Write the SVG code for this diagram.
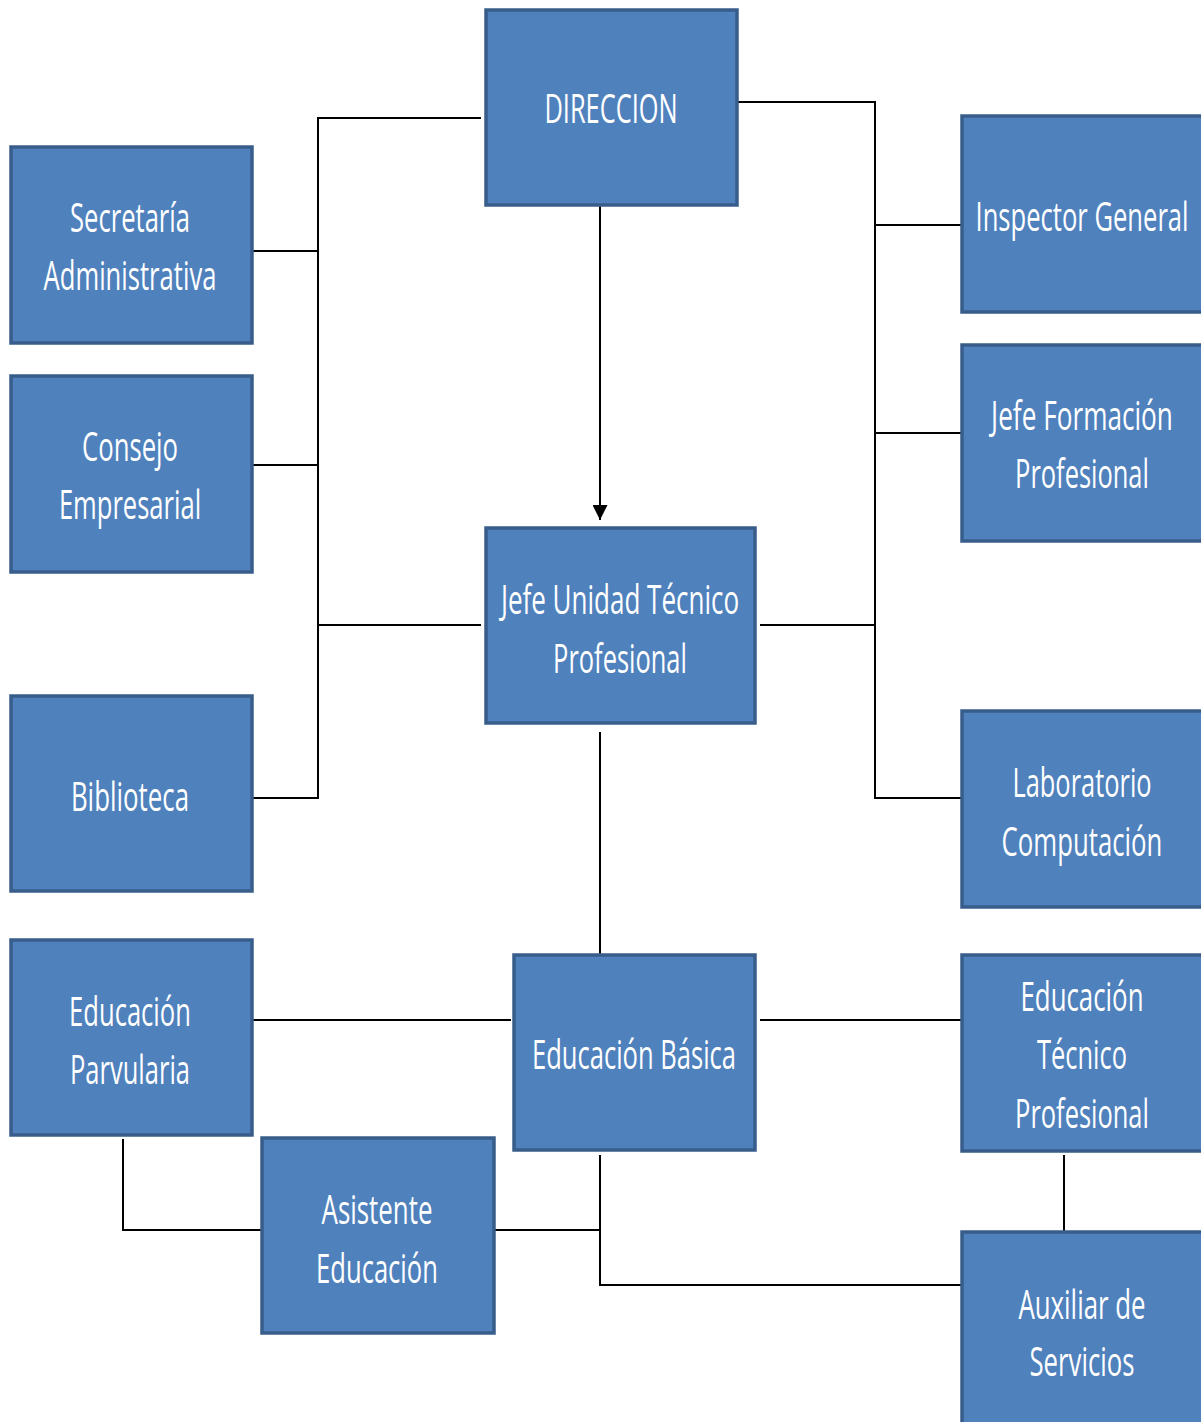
<svg xmlns="http://www.w3.org/2000/svg" width="1201" height="1422" viewBox="0 0 1201 1422">
<style>
.box{fill:#4F81BD;stroke:#385D8A;stroke-width:3.5}
.fill{fill:#4F81BD}
.edge{fill:none;stroke:#385D8A;stroke-width:3.5}
.t{fill:#FFFFFF;font-family:"Open Sans","Liberation Sans",sans-serif;font-size:40px;text-anchor:middle}
.c{fill:none;stroke:#000;stroke-width:2}
</style>
<defs>
<marker id="arr" viewBox="0 0 10 10" refX="10" refY="5" markerWidth="8" markerHeight="7.5" markerUnits="strokeWidth" orient="auto">
<path d="M0,0 L10,5 L0,10 z" fill="#000"/>
</marker>
</defs>
<rect width="1201" height="1422" fill="#FFFFFF"/>
<g id="connectors">
<polyline class="c" points="481,118 318,118 318,798 252,798"/>
<line class="c" x1="252" y1="251" x2="318" y2="251"/>
<line class="c" x1="252" y1="465" x2="318" y2="465"/>
<line class="c" x1="318" y1="625" x2="481" y2="625"/>
<polyline class="c" points="738,102 875,102 875,798 961,798"/>
<line class="c" x1="875" y1="225" x2="961" y2="225"/>
<line class="c" x1="875" y1="433" x2="961" y2="433"/>
<line class="c" x1="760" y1="625" x2="875" y2="625"/>
<line class="c" x1="600" y1="206" x2="600" y2="520" marker-end="url(#arr)"/>
<line class="c" x1="600" y1="732" x2="600" y2="954"/>
<line class="c" x1="252" y1="1020" x2="511" y2="1020"/>
<line class="c" x1="760" y1="1020" x2="961" y2="1020"/>
<polyline class="c" points="123,1139 123,1230 265,1230"/>
<line class="c" x1="494" y1="1230" x2="600" y2="1230"/>
<polyline class="c" points="600,1155 600,1285 961,1285"/>
<line class="c" x1="1064" y1="1155" x2="1064" y2="1231"/>
</g>
<g id="direccion">
<rect class="box" x="486" y="10" width="251" height="195"/>
<text class="t" transform="translate(611,123) scale(0.6,1)" textLength="222" lengthAdjust="spacingAndGlyphs">DIRECCION</text>
</g>
<g id="secretaria">
<rect class="box" x="11" y="147" width="241" height="196"/>
<text class="t" transform="translate(130,232) scale(0.6,1)" textLength="200" lengthAdjust="spacingAndGlyphs">Secretaría</text>
<text class="t" transform="translate(130,290) scale(0.6,1)" textLength="288" lengthAdjust="spacingAndGlyphs">Administrativa</text>
</g>
<g id="consejo">
<rect class="box" x="11" y="376" width="241" height="196"/>
<text class="t" transform="translate(130,461) scale(0.6,1)" textLength="160" lengthAdjust="spacingAndGlyphs">Consejo</text>
<text class="t" transform="translate(130,519) scale(0.6,1)" textLength="237" lengthAdjust="spacingAndGlyphs">Empresarial</text>
</g>
<g id="biblioteca">
<rect class="box" x="11" y="696" width="241" height="195"/>
<text class="t" transform="translate(130,811) scale(0.6,1)" textLength="197" lengthAdjust="spacingAndGlyphs">Biblioteca</text>
</g>
<g id="parvularia">
<rect class="box" x="11" y="940" width="241" height="195"/>
<text class="t" transform="translate(130,1026) scale(0.6,1)" textLength="203" lengthAdjust="spacingAndGlyphs">Educación</text>
<text class="t" transform="translate(130,1084) scale(0.6,1)" textLength="200" lengthAdjust="spacingAndGlyphs">Parvularia</text>
</g>
<g id="asistente">
<rect class="box" x="262" y="1138" width="232" height="195"/>
<text class="t" transform="translate(377,1224) scale(0.6,1)" textLength="185" lengthAdjust="spacingAndGlyphs">Asistente</text>
<text class="t" transform="translate(377,1283) scale(0.6,1)" textLength="203" lengthAdjust="spacingAndGlyphs">Educación</text>
</g>
<g id="jefe-utp">
<rect class="box" x="486" y="528" width="269" height="195"/>
<text class="t" transform="translate(620,614) scale(0.6,1)" textLength="397" lengthAdjust="spacingAndGlyphs">Jefe Unidad Técnico</text>
<text class="t" transform="translate(620,673) scale(0.6,1)" textLength="223" lengthAdjust="spacingAndGlyphs">Profesional</text>
</g>
<g id="basica">
<rect class="box" x="514" y="955" width="241" height="195"/>
<text class="t" transform="translate(634,1069) scale(0.6,1)" textLength="340" lengthAdjust="spacingAndGlyphs">Educación Básica</text>
</g>
<g id="inspector">
<rect class="fill" x="962" y="116" width="239" height="196"/>
<path class="edge" d="M1201,116 H962 V312 H1201"/>
<text class="t" transform="translate(1082,231) scale(0.6,1)" textLength="355" lengthAdjust="spacingAndGlyphs">Inspector General</text>
</g>
<g id="formacion">
<rect class="fill" x="962" y="345" width="239" height="196"/>
<path class="edge" d="M1201,345 H962 V541 H1201"/>
<text class="t" transform="translate(1082,430) scale(0.6,1)" textLength="303" lengthAdjust="spacingAndGlyphs">Jefe Formación</text>
<text class="t" transform="translate(1082,488) scale(0.6,1)" textLength="223" lengthAdjust="spacingAndGlyphs">Profesional</text>
</g>
<g id="laboratorio">
<rect class="fill" x="962" y="711" width="239" height="196"/>
<path class="edge" d="M1201,711 H962 V907 H1201"/>
<text class="t" transform="translate(1082,797) scale(0.6,1)" textLength="232" lengthAdjust="spacingAndGlyphs">Laboratorio</text>
<text class="t" transform="translate(1082,856) scale(0.6,1)" textLength="268" lengthAdjust="spacingAndGlyphs">Computación</text>
</g>
<g id="tecnico">
<rect class="fill" x="962" y="955" width="239" height="196"/>
<path class="edge" d="M1201,955 H962 V1151 H1201"/>
<text class="t" transform="translate(1082,1011) scale(0.6,1)" textLength="205" lengthAdjust="spacingAndGlyphs">Educación</text>
<text class="t" transform="translate(1082,1069) scale(0.6,1)" textLength="150" lengthAdjust="spacingAndGlyphs">Técnico</text>
<text class="t" transform="translate(1082,1128) scale(0.6,1)" textLength="223" lengthAdjust="spacingAndGlyphs">Profesional</text>
</g>
<g id="auxiliar">
<rect class="fill" x="962" y="1232" width="239" height="190"/>
<path class="edge" d="M1201,1232 H962 V1422"/>
<text class="t" transform="translate(1082,1319) scale(0.6,1)" textLength="212" lengthAdjust="spacingAndGlyphs">Auxiliar de</text>
<text class="t" transform="translate(1082,1376) scale(0.6,1)" textLength="175" lengthAdjust="spacingAndGlyphs">Servicios</text>
</g>
</svg>
